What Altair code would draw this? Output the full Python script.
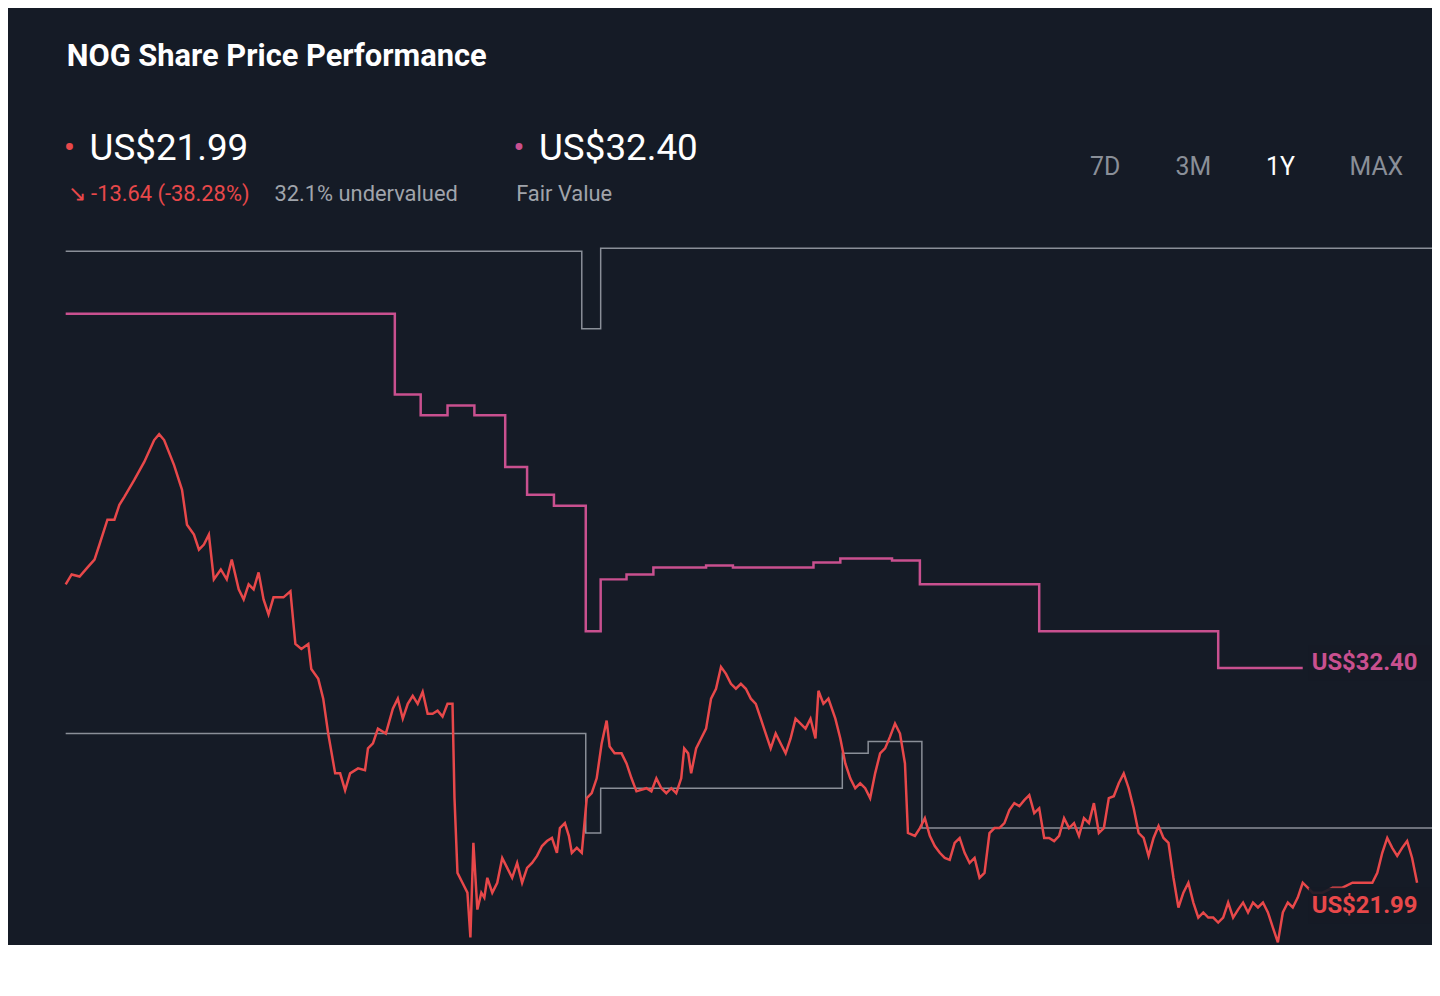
import altair as alt
import pandas as pd

# time index (arbitrary units, 0..1374) and price in US$
px_t = [0,6,14,22,29,34,42,49,54,59,69,79,89,94,99,109,117,122,129,134,139,144,149,156,162,167,174,179,184,189,194,199,204,209,219,226,231,237,244,247,254,259,264,271,276,281,286,294,301,304,309,314,322,329,334,339,344,349,354,359,364,369,374,379,384,389,391,394,399,404,407,410,414,418,421,424,429,434,439,444,449,454,459,464,469,474,479,484,489,494,497,502,506,509,514,519,524,529,534,539,544,547,552,559,564,569,574,584,589,594,599,604,609,614,619,622,626,629,634,639,644,649,654,659,664,669,674,679,684,689,694,699,704,709,714,719,724,729,734,739,744,749,754,757,762,767,774,779,784,789,794,799,804,809,814,819,824,829,834,839,844,847,854,859,864,869,874,879,884,889,894,899,904,909,914,919,924,929,934,939,944,949,954,959,964,969,974,979,984,989,994,999,1004,1009,1014,1019,1024,1029,1034,1039,1044,1049,1054,1059,1064,1069,1074,1079,1084,1089,1094,1099,1104,1109,1114,1119,1124,1129,1134,1139,1144,1149,1154,1159,1164,1169,1174,1179,1184,1189,1194,1199,1204,1209,1214,1219,1224,1229,1234,1239,1244,1249,1254,1264,1274,1284,1294,1304,1314,1319,1324,1329,1334,1339,1344,1349,1354,1359]
px_p = [36.45,36.93,36.83,37.27,37.65,38.38,39.58,39.58,40.30,40.69,41.51,42.38,43.44,43.73,43.44,42.23,41.03,39.34,38.86,38.13,38.38,38.86,36.69,37.17,36.69,37.65,36.21,35.72,36.45,36.21,37.03,35.72,35.00,35.82,35.82,36.11,33.56,33.32,33.56,32.35,31.87,30.91,29.22,27.29,27.29,26.47,27.29,27.53,27.44,28.50,28.74,29.46,29.22,30.42,30.91,29.94,30.66,31.05,30.66,31.24,30.18,30.18,30.33,30.04,30.66,30.66,26.09,22.47,21.99,21.51,19.34,23.92,20.69,21.51,21.27,22.23,21.51,21.99,23.19,22.71,22.23,22.95,21.99,22.71,22.95,23.29,23.77,24.01,24.16,23.44,24.64,24.88,24.26,23.44,23.68,23.44,26.09,26.33,27.05,28.74,29.85,28.59,28.26,28.26,27.77,27.05,26.42,26.57,26.42,27.05,26.57,26.33,26.57,26.33,27.05,28.50,28.26,27.29,28.50,28.98,29.46,30.91,31.39,32.45,32.11,31.63,31.39,31.63,31.39,30.91,30.66,29.94,29.22,28.50,29.22,28.74,28.26,28.98,29.94,29.70,29.46,29.94,28.98,31.29,30.66,30.91,29.94,28.98,27.77,27.05,26.57,26.81,26.57,26.09,27.29,28.26,28.50,29.07,29.70,29.22,27.77,24.40,24.26,24.64,25.12,24.26,23.77,23.44,23.19,23.10,23.92,24.16,23.44,22.95,23.19,22.23,22.47,24.40,24.64,24.64,24.88,25.51,25.85,25.70,25.99,26.23,25.36,25.60,24.16,24.16,24.01,24.26,25.12,24.64,24.88,24.26,25.12,24.88,25.85,24.40,24.64,26.09,26.18,26.81,27.29,26.57,25.60,24.40,24.16,23.29,24.16,24.74,24.16,23.92,22.23,20.79,21.51,21.99,21.03,20.30,20.55,20.30,20.30,20.06,20.30,21.03,20.30,20.69,21.03,20.55,21.03,20.79,21.03,20.55,19.82,19.10,20.55,21.03,20.79,21.27,21.99,21.75,21.51,21.51,21.75,21.75,21.99,21.99,21.99,22.47,23.44,24.16,23.68,23.29,23.68,24.01,23.19,21.99]

fv_t = [0,331,357,384,411,442,464,491,523,538,564,591,644,671,752,779,831,859,979,1159,1244]
fv_p = [49.56,45.65,44.64,45.12,44.64,42.13,40.79,40.26,34.18,36.69,36.93,37.27,37.36,37.27,37.51,37.70,37.60,36.45,34.18,32.40,32.40]

g1_t = [0,519,538,1374]
g1_p = [52.59,48.83,52.74,52.74]
g2_t = [0,523,538,781,807,861,1374]
g2_p = [29.22,24.40,26.57,28.26,28.83,24.64,24.64]

BG = "#151b26"
RED = "#e8484a"
PINK = "#c9508f"
GRAY = "#8a8f98"

xs = alt.Scale(domain=[0, 1374])
ys = alt.Scale(domain=[19.10, 52.83], zero=False)

def line_df(t, p):
    return pd.DataFrame({"t": t, "p": p, "o": range(len(t))})

price = line_df(px_t, px_p)
X = alt.X("t:Q", scale=xs, axis=None)
Y = alt.Y("p:Q", scale=ys, axis=None)

area = alt.Chart(price).mark_area(
    color=alt.Gradient(gradient="linear", x1=0, x2=0, y1=0, y2=1,
                       stops=[alt.GradientStop(color="rgba(232,72,74,0.18)", offset=0),
                              alt.GradientStop(color="rgba(232,72,74,0.02)", offset=1)])
).encode(x=X, y=Y, y2=alt.Y2(datum=21.0), order="o:Q")

pline = alt.Chart(price).mark_line(color=RED, strokeWidth=2.5).encode(x=X, y=Y, order="o:Q")
fv = alt.Chart(line_df(fv_t, fv_p)).mark_line(color=PINK, strokeWidth=2.5, interpolate="step-after").encode(x=X, y=Y, order="o:Q")
g1 = alt.Chart(line_df(g1_t, g1_p)).mark_line(color=GRAY, strokeWidth=1.5, interpolate="step-after").encode(x=X, y=Y, order="o:Q")
g2 = alt.Chart(line_df(g2_t, g2_p)).mark_line(color=GRAY, strokeWidth=1.5, interpolate="step-after").encode(x=X, y=Y, order="o:Q")

def label(txt, t, p, color, dy):
    d = pd.DataFrame({"t": [t], "p": [p], "txt": [txt]})
    box = alt.Chart(d).mark_rect(color=BG, opacity=0.9, width=130, height=36, xOffset=62, yOffset=dy).encode(x=X, y=Y)
    tx = alt.Chart(d).mark_text(color=color, fontSize=24, fontWeight="bold", align="left", dy=dy).encode(x=X, y=Y, text="txt:N")
    return box + tx

lab1 = label("US$32.40", 1253, 32.40, PINK, -5)
lab2 = label("US$21.99", 1253, 21.99, RED, 23)

def txt(s, x, y, size, color, weight="normal"):
    return alt.Chart(pd.DataFrame({"s": [s]})).mark_text(
        align="left", baseline="middle", fontSize=size, color=color, fontWeight=weight
    ).encode(x=alt.value(x - 66), y=alt.value(y - 245), text="s:N")

texts = [
    txt("NOG Share Price Performance", 67, 55, 31, "#ffffff", "bold"),
    txt("•", 64, 147, 34, RED),
    txt("US$21.99", 90, 147, 37, "#ffffff"),
    txt("↘ -13.64 (-38.28%)", 68, 192, 22, RED),
    txt("32.1% undervalued", 276, 192, 22, "#a0a4ab"),
    txt("•", 516, 147, 34, PINK),
    txt("US$32.40", 542, 147, 37, "#ffffff"),
    txt("Fair Value", 519, 192, 22, "#a0a4ab"),
    txt("7D", 1096, 165, 25, "#8a8f98"),
    txt("3M", 1182, 165, 25, "#8a8f98"),
    txt("1Y", 1273, 165, 25, "#ffffff"),
    txt("MAX", 1357, 165, 25, "#8a8f98"),
]

chart = alt.layer(area, g1, g2, fv, pline, lab1, lab2, *texts).properties(
    width=1374, height=700, background=BG,
    autosize=alt.AutoSizeParams(type="none"),
    padding={"left": 58, "top": 237, "right": 0, "bottom": 0}
).configure(font="Roboto").configure_view(stroke=None)

chart.save("out.html", embed_options={"renderer": "svg", "actions": False})
